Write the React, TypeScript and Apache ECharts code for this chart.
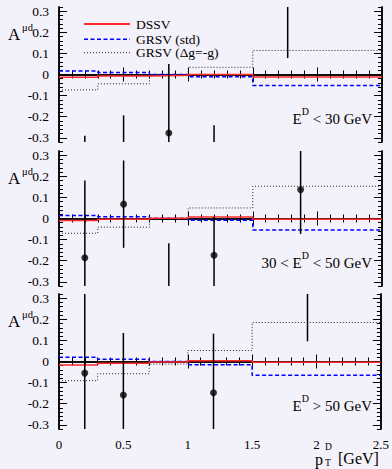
import React, { useEffect, useRef } from "react";
import * as echarts from "echarts";

// ---- data ----
const binEdges = [0, 0.3, 0.7, 1.0, 1.5, 2.5];

const dssvLow = [-0.013, -0.007, -0.004, 0.0, -0.012];
const grsvStdLow = [0.017, 0.01, 0.0, -0.011, -0.052];
const grsvNegLow = [-0.073, -0.044, -0.006, 0.034, 0.114];

const dssvMid = [-0.009, -0.003, 0.001, 0.007, -0.003];
const grsvStdMid = [0.014, 0.008, 0.001, -0.008, -0.054];
const grsvNegMid = [-0.07, -0.041, 0.0, 0.05, 0.153];

const dssvHigh = [-0.016, -0.008, -0.002, 0.003, -0.003];
const grsvStdHigh = [0.02, 0.011, 0.0, -0.015, -0.065];
const grsvNegHigh = [-0.091, -0.058, -0.012, 0.052, 0.185];

const ptXLow = [0.2, 0.5, 0.85, 1.2, 1.77];
const ptYLow = [-0.55, -0.45, -0.277, -0.48, 0.4];
const ptErrLow = [0.26, 0.256, 0.327, 0.24, 0.322];

const ptXMid = [0.2, 0.5, 0.85, 1.2, 1.87];
const ptYMid = [-0.186, 0.068, -0.4, -0.174, 0.137];
const ptErrMid = [0.366, 0.207, 0.283, 0.182, 0.21];

const ptXHigh = [0.2, 0.5, 1.2, 1.93];
const ptYHigh = [-0.055, -0.159, -0.148, 0.4];
const ptErrHigh = [0.4, 0.294, 0.28, 0.304];

const yTickValues = [-0.3, -0.2, -0.1, 0, 0.1, 0.2, 0.3];
const seriesNames = ["DSSV", "GRSV (std)", "GRSV (Δg=-g)"];
const panelLabels = [
  ["", "E", "D", " < 30 GeV"],
  ["30 < ", "E", "D", " < 50 GeV"],
  ["", "E", "D", " > 50 GeV"],
];

const Y_MIN = -0.32;
const Y_MAX = 0.32;
const X_MIN = 0;
const X_MAX = 2.5;

const FONT = "Liberation Serif";
const BG = "#f3f1f9";

const styles = [
  { color: "#ff2a2a", width: 1.5, dash: null as any },
  { color: "#0000ff", width: 1.5, dash: [4, 2.5] },
  { color: "#222", width: 1, dash: [1, 2] },
];

function stepData(vals: number[]) {
  const d: number[][] = [];
  for (let i = 0; i < vals.length; i++) d.push([binEdges[i], vals[i]]);
  d.push([binEdges[binEdges.length - 1], vals[vals.length - 1]]);
  return d;
}

const panels = [
  { dssv: dssvLow, std: grsvStdLow, neg: grsvNegLow, px: ptXLow, py: ptYLow, pe: ptErrLow },
  { dssv: dssvMid, std: grsvStdMid, neg: grsvNegMid, px: ptXMid, py: ptYMid, pe: ptErrMid },
  { dssv: dssvHigh, std: grsvStdHigh, neg: grsvNegHigh, px: ptXHigh, py: ptYHigh, pe: ptErrHigh },
];

const GRID_LEFT = 59;
const GRID_RIGHT = 10;
const GRID_H = 135;
const gridTops = [7, 151, 294];

export default function App() {
  const ref = useRef<HTMLDivElement>(null);
  useEffect(() => {
    document.body.style.margin = "0";
    document.body.style.background = BG;
    if (!ref.current) return;
    const chart = echarts.init(ref.current, undefined, { renderer: "svg" });

    const grid: any[] = [];
    const xAxis: any[] = [];
    const yAxis: any[] = [];
    const series: any[] = [];
    const graphic: any[] = [];

    const axisLine = { show: true, lineStyle: { color: "#000", width: 1.5 } };

    panels.forEach((p, i) => {
      grid.push({ left: GRID_LEFT, right: GRID_RIGHT, top: gridTops[i], height: GRID_H });
      const isBottom = i === panels.length - 1;
      ["bottom", "top"].forEach((pos) => {
        xAxis.push({
          type: "value",
          gridIndex: i,
          position: pos,
          min: X_MIN,
          max: X_MAX,
          interval: 0.5,
          axisLine,
          splitLine: { show: false },
          axisTick: { show: true, inside: true, length: 7, lineStyle: { color: "#000", width: 1 } },
          minorTick: { show: true, splitNumber: 5, length: 4, lineStyle: { color: "#000", width: 1 } },
          axisLabel: {
            show: isBottom && pos === "bottom",
            margin: 9,
            fontFamily: FONT,
            fontSize: 13,
            color: "#000",
            formatter: (v: number) => String(Math.round(v * 10) / 10),
          },
        });
      });
      ["left", "right"].forEach((pos) => {
        yAxis.push({
          type: "value",
          gridIndex: i,
          position: pos,
          min: Y_MIN,
          max: Y_MAX,
          interval: 0.02,
          axisLine,
          splitLine: { show: false },
          axisTick: {
            show: true,
            inside: true,
            length: 8,
            customValues: yTickValues,
            lineStyle: { color: "#000", width: 1 },
          },
          axisLabel: {
            show: pos === "left",
            customValues: yTickValues,
            margin: 10,
            fontFamily: FONT,
            fontSize: 13.5,
            color: "#000",
            formatter: (v: number) => String(Math.round(v * 10) / 10),
          },
        });
        yAxis.push({
          type: "value",
          gridIndex: i,
          position: pos,
          min: Y_MIN,
          max: Y_MAX,
          interval: 0.02,
          axisLine,
          splitLine: { show: false },
          axisTick: { show: true, inside: true, length: 4, lineStyle: { color: "#000", width: 1 } },
          axisLabel: { show: false },
        });
      });

      const xi = 2 * i;
      const yi = 4 * i;
      const vals = [p.dssv, p.std, p.neg];
      [2, 1, 0].forEach((k) => {
        const s = styles[k];
        series.push({
          name: seriesNames[k],
          type: "line",
          step: "end",
          xAxisIndex: xi,
          yAxisIndex: yi,
          data: stepData(vals[k]),
          symbol: "none",
          color: s.color,
          lineStyle: { color: s.color, width: s.width, type: s.dash || "solid" },
          z: 4 - k,
        });
      });
      const pts = p.px.map((x, k) => [x, p.py[k], p.pe[k]]);
      series.push({
        type: "custom",
        xAxisIndex: xi,
        yAxisIndex: yi,
        data: pts,
        encode: { x: 0, y: 1 },
        z: 5,
        renderItem: (_params: any, api: any) => {
          const x = api.value(0);
          const y = api.value(1);
          const e = api.value(2);
          const lo = Math.max(y - e, Y_MIN);
          const hi = Math.min(y + e, Y_MAX);
          if (lo >= hi) return null;
          const a = api.coord([x, lo]);
          const b = api.coord([x, hi]);
          return {
            type: "line",
            shape: { x1: a[0], y1: a[1], x2: b[0], y2: b[1] },
            style: { stroke: "#000", lineWidth: 1.5 },
          };
        },
      });
      series.push({
        type: "scatter",
        xAxisIndex: xi,
        yAxisIndex: yi,
        data: pts.map((d) => [d[0], d[1]]),
        symbol: "circle",
        symbolSize: 7,
        clip: true,
        itemStyle: { color: "#000" },
        z: 6,
      });

      const top = gridTops[i];
      graphic.push({
        type: "text",
        left: 8,
        top: top + 19,
        style: { text: "A", font: `17px '${FONT}'`, fill: "#000" },
      });
      graphic.push({
        type: "text",
        left: 22,
        top: top + 15,
        style: { text: "μd", font: `10.5px '${FONT}'`, fill: "#000" },
      });
      const lbl = panelLabels[i];
      graphic.push({
        type: "text",
        right: GRID_RIGHT + 10,
        top: top + 99,
        style: {
          text: `{n|${lbl[0]}${lbl[1]}}{s|${lbl[2]}}{n|${lbl[3]}}`,
          rich: {
            n: { fontFamily: FONT, fontSize: 15, lineHeight: 20, fill: "#000", color: "#000", verticalAlign: "bottom" },
            s: { fontFamily: FONT, fontSize: 10, lineHeight: 20, fill: "#000", color: "#000", verticalAlign: "top" },
          },
        },
      });
    });

    // legend (drawn by hand, in panel 1)
    const legendY = [24, 39.3, 52.7];
    seriesNames.forEach((name, k) => {
      const s = styles[k];
      graphic.push({
        type: "line",
        shape: { x1: 84, y1: legendY[k], x2: 130, y2: legendY[k] },
        style: { stroke: s.color, lineWidth: k === 0 ? 2 : s.width, lineDash: s.dash || null },
        z: 10,
      });
      graphic.push({
        type: "text",
        x: 136,
        y: legendY[k],
        style: { text: name, font: `13.5px '${FONT}'`, fill: "#000", verticalAlign: "middle" },
        z: 10,
      });
    });

    // x-axis title p_T^D [GeV]
    graphic.push({ type: "text", left: 315, top: 451, style: { text: "p", font: `16px '${FONT}'`, fill: "#000" } });
    graphic.push({ type: "text", left: 325, top: 458, style: { text: "T", font: `9.5px '${FONT}'`, fill: "#000" } });
    graphic.push({ type: "text", left: 325, top: 442, style: { text: "D", font: `9.5px '${FONT}'`, fill: "#000" } });
    graphic.push({ type: "text", left: 334, top: 450, style: { text: " [GeV]", font: `16px '${FONT}'`, fill: "#000" } });

    chart.setOption({
      animation: false,
      backgroundColor: BG,
      textStyle: { fontFamily: FONT },
      grid,
      xAxis,
      yAxis,
      series,
      graphic,
    });
    return () => chart.dispose();
  }, []);
  return <div ref={ref} style={{ width: 392, height: 469, background: BG }} />;
}
